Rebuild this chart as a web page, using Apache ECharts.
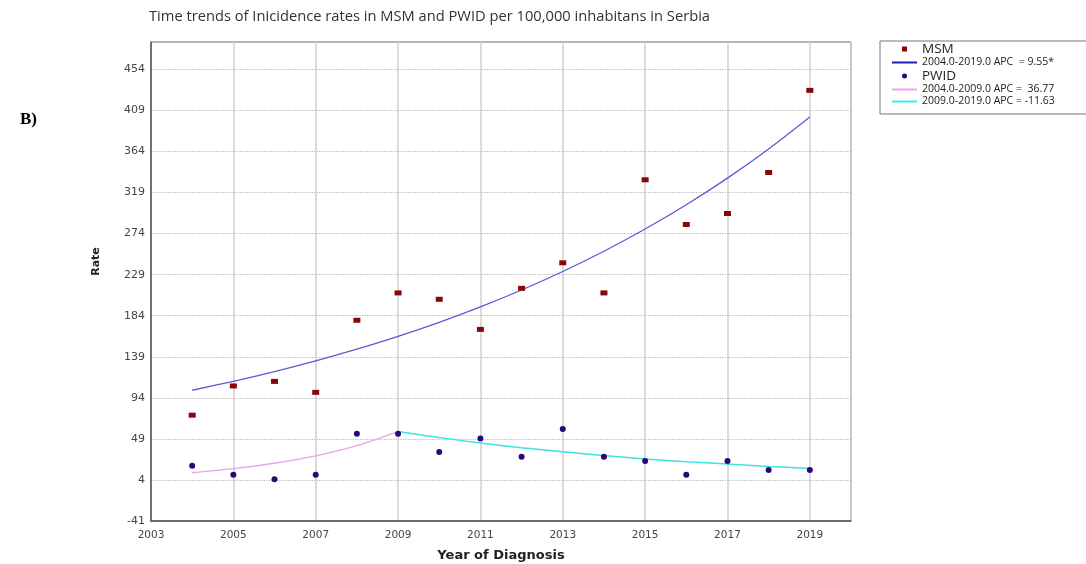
<!DOCTYPE html>
<html>
<head>
<meta charset="utf-8">
<script src="https://cdn.jsdelivr.net/npm/echarts@6/dist/echarts.min.js"></script>
<style>
  html, body { margin: 0; padding: 0; background: #fff; }
  #chart { width: 1086px; height: 564px; }
</style>
</head>
<body>
<div id="chart"></div>
<script>
// Observed incidence rates per 100,000 inhabitants, Serbia
const years = [2004, 2005, 2006, 2007, 2008, 2009, 2010, 2011, 2012, 2013, 2014, 2015, 2016, 2017, 2018, 2019];
const msmRate = [75, 107, 112, 100, 179, 209, 202, 169, 214, 242, 209, 333, 284, 296, 341, 431];
const pwidRate = [19.6, 9.8, 4.8, 9.8, 54.6, 54.6, 34.6, 49.5, 29.5, 59.7, 29.5, 24.8, 9.8, 24.8, 14.9, 14.9];

// Joinpoint fitted values
const msmFit = [102.3, 112.1, 122.8, 134.5, 147.3, 161.4, 176.8, 193.7, 212.2, 232.5, 254.7, 279.0, 305.6, 334.8, 366.8, 401.8];
const pwidFitYears1 = [2004, 2005, 2006, 2007, 2008, 2009];
const pwidFit1 = [11.9, 16.3, 22.3, 30.5, 41.7, 57.0];
const pwidFitYears2 = [2009, 2010, 2011, 2012, 2013, 2014, 2015, 2016, 2017, 2018, 2019];
const pwidFit2 = [57.0, 50.4, 44.5, 39.3, 34.8, 30.7, 27.0, 24.0, 21.6, 18.8, 16.6];

// Series / legend names
const seriesNames = [
  'MSM',
  '2004.0-2019.0 APC  = 9.55*',
  'PWID',
  '2004.0-2009.0 APC =  36.77',
  '2009.0-2019.0 APC = -11.63'
];
const groupNames = ['MSM', 'PWID'];

const pairs = (xs, ys) => xs.map((x, i) => [x, ys[i]]);

const chart = echarts.init(document.getElementById('chart'), null, { renderer: 'canvas' });

const labelFont = 'DejaVu Sans';
// legend icons: a small marker or a bar centred in a 25x10 slot
const squareIcon = 'path://M0,0M25,10M10,2.5h5v5h-5z';
const dotIcon = 'path://M0,0M25,10M10,5a2.5,2.5 0 1,0 5,0a2.5,2.5 0 1,0 -5,0z';
const barIcon = 'path://M0,0M25,10M0,4H25V6H0z';

chart.setOption({
  animation: false,
  backgroundColor: '#fff',
  title: [
    {
      text: 'Time trends of Inicidence rates in MSM and PWID per 100,000 inhabitans in Serbia',
      left: 149, top: 9, padding: 0,
      textStyle: { fontFamily: 'Open Sans', fontSize: 14.7, fontWeight: 'normal', color: '#333' }
    },
    {
      text: 'B)',
      left: 20, top: 111, padding: 0,
      textStyle: { fontFamily: 'Liberation Serif', fontSize: 17, fontWeight: 'bold', color: '#000' }
    }
  ],
  legend: {
    orient: 'vertical',
    left: 880, top: 41,
    padding: [1, 60, 7, 12],
    itemWidth: 25, itemHeight: 10, itemGap: 1,
    backgroundColor: '#fff',
    borderColor: '#777', borderWidth: 1,
    formatter: name => groupNames.includes(name) ? '{big|' + name + '}' : '{small|' + name + '}',
    textStyle: {
      color: '#222',
      rich: {
        big: { fontFamily: 'Open Sans', fontSize: 13.5, lineHeight: 12, color: '#222' },
        small: { fontFamily: 'Open Sans', fontSize: 10.5, lineHeight: 11, color: '#222' }
      }
    },
    data: [
      { name: seriesNames[0], icon: squareIcon },
      { name: seriesNames[1], icon: barIcon, itemStyle: { color: '#1c1cb4' } },
      { name: seriesNames[2], icon: dotIcon },
      { name: seriesNames[3], icon: barIcon },
      { name: seriesNames[4], icon: barIcon }
    ]
  },
  grid: {
    left: 151, right: 235, top: 42, bottom: 43,
    outerBoundsMode: 'none',
    show: true, borderColor: '#666', borderWidth: 1
  },
  xAxis: {
    type: 'value',
    min: 2003, max: 2020, interval: 2,
    name: 'Year of Diagnosis',
    nameLocation: 'middle', nameGap: 28,
    nameTextStyle: { fontFamily: labelFont, fontSize: 13, fontWeight: 'bold', color: '#222' },
    axisLine: { onZero: false, lineStyle: { color: '#555', width: 1.5 } },
    axisTick: { show: false },
    axisLabel: {
      showMaxLabel: false, fontFamily: labelFont, fontSize: 10.5, color: '#444', margin: 9,
      formatter: v => String(v)
    },
    splitLine: { show: true, lineStyle: { color: '#cfcfcf', type: 'solid', width: 1.5 } }
  },
  yAxis: {
    type: 'value',
    min: -41, max: 484, interval: 45,
    name: 'Rate',
    nameLocation: 'middle', nameGap: 49, nameRotate: 90,
    nameTextStyle: { fontFamily: labelFont, fontSize: 11, fontWeight: 'bold', color: '#222', padding: [0, 0, 0, 40] },
    axisLine: { onZero: false, lineStyle: { color: '#555', width: 1.5 } },
    axisTick: { show: false },
    axisLabel: { showMaxLabel: false, fontFamily: labelFont, fontSize: 11, color: '#444', margin: 6 },
    splitLine: { show: true, lineStyle: { color: '#b8b8b8', type: 'dotted', width: 1.2 } }
  },
  series: [
    {
      name: seriesNames[0], type: 'scatter',
      data: pairs(years, msmRate),
      symbol: 'rect', symbolSize: [7, 5],
      itemStyle: { color: '#860808', opacity: 1 }, z: 5
    },
    {
      name: seriesNames[1], type: 'line',
      data: pairs(years, msmFit),
      symbol: 'none', smooth: 0.3,
      lineStyle: { color: '#5a5ad8', width: 1.3 },
      itemStyle: { color: '#5a5ad8' }
    },
    {
      name: seriesNames[2], type: 'scatter',
      data: pairs(years, pwidRate),
      symbol: 'circle', symbolSize: 6,
      itemStyle: { color: '#2c0874', opacity: 1 }, z: 5
    },
    {
      name: seriesNames[3], type: 'line',
      data: pairs(pwidFitYears1, pwidFit1),
      symbol: 'none', smooth: 0.3,
      lineStyle: { color: '#e6a6e6', width: 1.3 },
      itemStyle: { color: '#eea2ee' }
    },
    {
      name: seriesNames[4], type: 'line',
      data: pairs(pwidFitYears2, pwidFit2),
      symbol: 'none', smooth: 0.3,
      lineStyle: { color: '#3ee3e3', width: 1.5 },
      itemStyle: { color: '#3ee6e6' }
    }
  ]
});
</script>
</body>
</html>
